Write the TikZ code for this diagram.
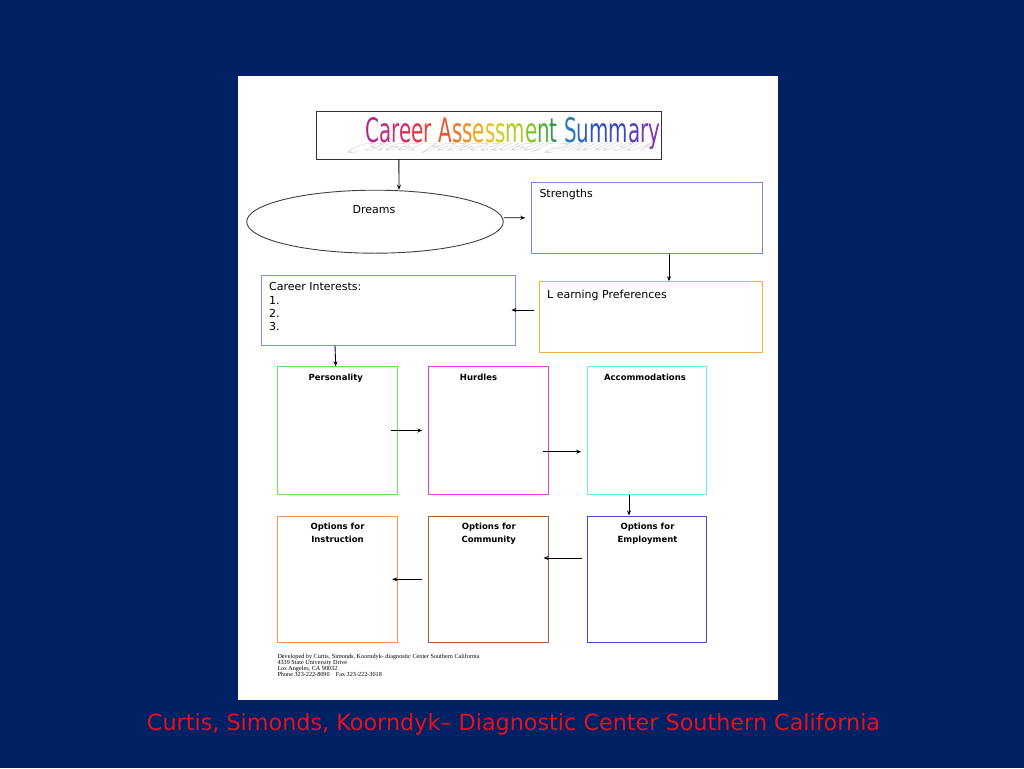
\documentclass[tikz,border=0pt]{standalone}
\usepackage{fontspec}
\setmainfont{DejaVu Sans}
\newfontfamily\footfont{Liberation Serif}
\newfontfamily\capfont{DejaVu Sans}
\usetikzlibrary{arrows.meta,shapes.geometric}
\definecolor{navybg}{HTML}{002163}
\definecolor{capred}{HTML}{E8101E}
\definecolor{cBlueA}{HTML}{7585E0}
\definecolor{cOrangeA}{HTML}{F2B040}
\definecolor{cBlueB}{HTML}{7898E6}
\definecolor{cGreen}{HTML}{66E066}
\definecolor{cMagenta}{HTML}{E040E0}
\definecolor{cCyan}{HTML}{70E8EC}
\definecolor{cOrangeB}{HTML}{F49458}
\definecolor{cBrown}{HTML}{A55A3C}
\definecolor{cBlueC}{HTML}{4A48D8}
\newcommand\rl[2]{\textcolor[HTML]{#1}{#2}}
\newcommand\titletext{\rl{B0288F}{C}\rl{C22A80}{a}\rl{CF2A6C}{r}\rl{D92C5A}{e}\rl{E0344A}{e}\rl{E4443C}{r} \rl{E85A2C}{A}\rl{EC7424}{s}\rl{EF9020}{s}\rl{EEA81E}{e}\rl{E8C01C}{s}\rl{D8CC1E}{s}\rl{B4CC24}{m}\rl{84C42C}{e}\rl{50B036}{n}\rl{2E9C44}{t} \rl{2A7EB0}{S}\rl{2A64BA}{u}\rl{3052C0}{m}\rl{3E48C2}{m}\rl{5440C0}{a}\rl{6C38BA}{r}\rl{8630B2}{y}}
\begin{document}
\begin{tikzpicture}[x=1pt,y=-1pt,
  box/.style={draw=#1, line width=0.9pt, inner sep=0pt, rectangle},
  lbl/.style={font=\fontsize{11}{13}\selectfont, inner sep=0pt, anchor=base west},
  hd/.style={font=\fontsize{8.5}{10}\selectfont\bfseries, inner sep=0pt, anchor=base, align=center},
  arr/.style={-{Stealth[length=5pt,width=4pt]}, line width=0.9pt, black}]
\useasboundingbox (0,0) rectangle (1024,768);
\fill[navybg] (0,0) rectangle (1024,768);
\fill[white] (237.5,75.7) rectangle (777.5,700);
% title
\node[box=black!80, minimum width=344.3pt, minimum height=48pt] (title) at (488.9,135) {};
\node[inner sep=0pt, anchor=base west, opacity=0.5, transform shape, yscale=-0.4, xslant=-0.8] (titleref) at (362,143) {\resizebox{295pt}{25pt}{\textcolor{gray!55}{Career Assessment Summary}}};
\node[inner sep=0pt, anchor=base west] (titletxt) at (365,142) {\resizebox{295pt}{25pt}{\titletext}};
% dreams
\node[draw=black!75, line width=0.9pt, ellipse, minimum width=256.6pt, minimum height=63pt, inner sep=0pt] (dreams) at (375,221.7) {};
\node[lbl, anchor=base] (dreamst) at (374,213.5) {Dreams};
% strengths
\node[box=cBlueA, minimum width=231pt, minimum height=71pt] (str) at (647.2,217.8) {};
\node[lbl] (strt) at (539.3,197.3) {Strengths};
% learning
\node[box=cOrangeA, minimum width=223.4pt, minimum height=70.6pt] (learn) at (651,317) {};
\node[lbl] (learnt) at (547,298) {L earning Preferences};
% career
\node[box=cBlueB, minimum width=254pt, minimum height=70pt] (career) at (388.7,310) {};
\node[lbl] (cart) at (269,290.5) {Career Interests:};
\node[lbl] (car1) at (269,304.5) {1.};
\node[lbl] (car2) at (269,317.3) {2.};
\node[lbl] (car3) at (269,330.3) {3.};
% row 1
\node[box=cGreen, minimum width=119.7pt, minimum height=127.6pt] (pers) at (337.2,430.5) {};
\node[box=cMagenta, minimum width=119.7pt, minimum height=127.6pt] (hurd) at (488.2,430.5) {};
\node[box=cCyan, minimum width=119.7pt, minimum height=127.6pt] (acc) at (646.8,430.5) {};
\node[hd] (perst) at (335.8,380) {Personality};
\node[hd] (hurdt) at (478.5,380) {Hurdles};
\node[hd] (acct) at (645,380) {Accommodations};
% row 2
\node[box=cOrangeB, minimum width=119.7pt, minimum height=126.7pt] (instr) at (337.2,579.3) {};
\node[box=cBrown, minimum width=119.7pt, minimum height=126.7pt] (comm) at (488.2,579.3) {};
\node[box=cBlueC, minimum width=119.7pt, minimum height=126.7pt] (empl) at (646.8,579.3) {};
\node[hd] (instrt1) at (337.5,529.3) {Options for};
\node[hd] (instrt2) at (337.5,542.6) {Instruction};
\node[hd] (commt1) at (488.8,529.3) {Options for};
\node[hd] (commt2) at (488.8,542.6) {Community};
\node[hd] (emplt1) at (647.5,529.3) {Options for};
\node[hd] (emplt2) at (647.5,542.6) {Employment};
% footer
\node[inner sep=0pt, anchor=north west, align=left, font=\footfont\fontsize{6.2}{5.8}\selectfont] (foot) at (277.3,654.3) {Developed by Curtis, Simonds, Koorndyk- diagnostic Center Southern California\\4339 State University Drive\\Los Angeles, CA 90032\\Phone 323-222-8090\quad Fax 323-222-3018};
% caption
\node[inner sep=0pt, text=capred] (cap) at (513.5,724) {\resizebox{733pt}{!}{\capfont Curtis, Simonds, Koorndyk\textendash{} Diagnostic Center Southern California}};
% connectors
\draw[arr] ([xshift=-90]title.south) -- ([xshift=24]dreams.north);
\draw[arr] ([yshift=4]dreams.east) -- ([xshift=-6]str.west);
\draw[arr] ([xshift=21.8]str.south) -- ([xshift=18]learn.north);
\draw[arr] ([xshift=-5.3,yshift=7]learn.west) -- ([xshift=-4.7]career.east);
\draw[arr] ([xshift=-53.7]career.south) -- ([xshift=-1.5]pers.north);
\draw[arr] ([xshift=-7]pers.east) -- ([xshift=-5.7]hurd.west);
\draw[arr] ([xshift=-6,yshift=-21.2]hurd.east) -- ([xshift=-5.3,yshift=-21.2]acc.west);
\draw[arr] ([xshift=-17.8]acc.south) -- ([xshift=-17.8]empl.north);
\draw[arr] ([xshift=-5,yshift=21.3]empl.west) -- ([xshift=-5,yshift=21.3]comm.east);
\draw[arr] ([xshift=-5.7]comm.west) -- ([xshift=-5.3]instr.east);
\end{tikzpicture}
\end{document}
